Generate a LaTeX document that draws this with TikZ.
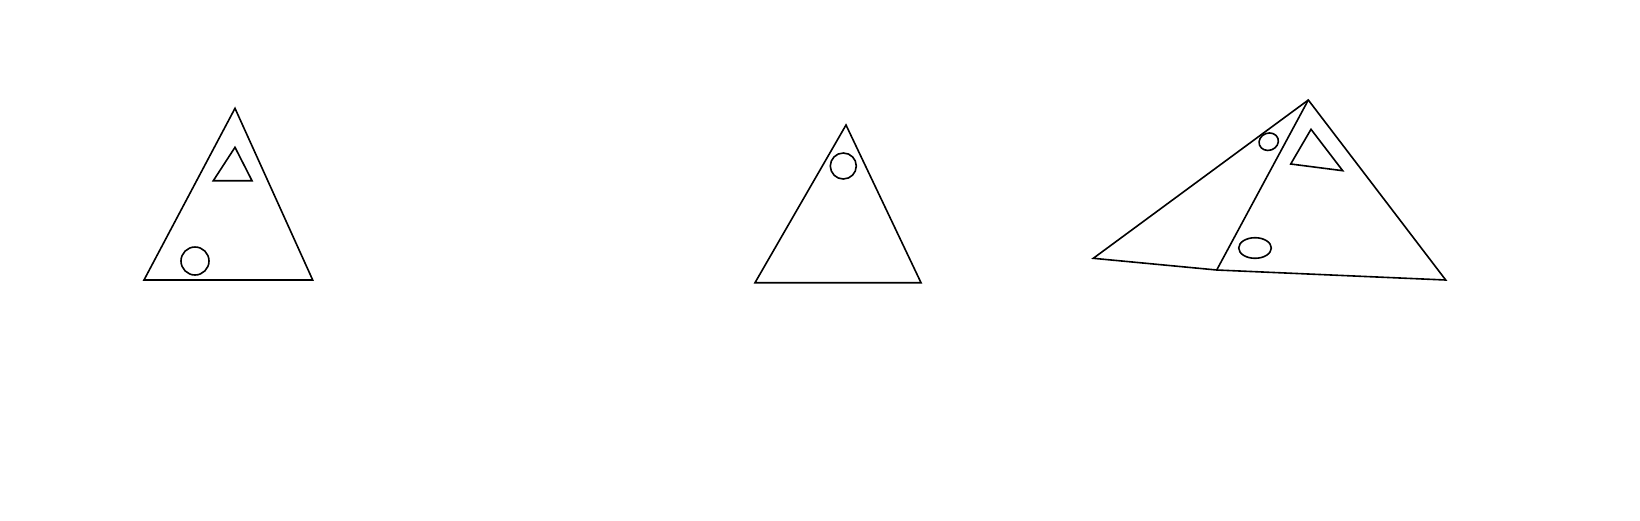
\documentclass[tikz,border=0pt]{standalone}
\begin{document}
\begin{tikzpicture}[x=1pt,y=-1pt,line width=1.6pt,line join=miter,
  outl/.style={draw=black}]
\useasboundingbox (0,0) rectangle (1640,520);
% left triangle
\coordinate (a1) at (235,108.3);
\coordinate (a2) at (144,280);
\coordinate (a3) at (312.7,280);
\draw[outl] (a1) -- (a2) -- (a3) -- cycle;
\coordinate (b1) at (235,147.3);
\coordinate (b2) at (213.3,180.7);
\coordinate (b3) at (252,180.7);
\draw[outl] (b1) -- (b2) -- (b3) -- cycle;
\draw[outl] (195,261) circle (14);
% middle triangle
\coordinate (c1) at (846,125);
\coordinate (c2) at (755,282.7);
\coordinate (c3) at (921,282.7);
\draw[outl] (c1) -- (c2) -- (c3) -- cycle;
\draw[outl] (843.3,166) circle (13);
% right composite
\coordinate (d1) at (1308.3,100);
\coordinate (d2) at (1093.3,258.3);
\coordinate (d3) at (1445.7,280);
\coordinate (d4) at (1216.7,270);
\draw[outl] (d1) -- (d2) -- (d4) -- (d3) -- cycle;
\draw[outl] (d1) -- (d4);
\coordinate (e1) at (1311,129.3);
\coordinate (e2) at (1290.7,164);
\coordinate (e3) at (1342.7,170.7);
\draw[outl] (e1) -- (e2) -- (e3) -- cycle;
\draw[outl,rotate around={20:(1268.7,141.7)}] (1268.7,141.7) ellipse (9.8 and 8.6);
\draw[outl] (1255,248) ellipse (16.3 and 10.3);
\end{tikzpicture}
\end{document}
